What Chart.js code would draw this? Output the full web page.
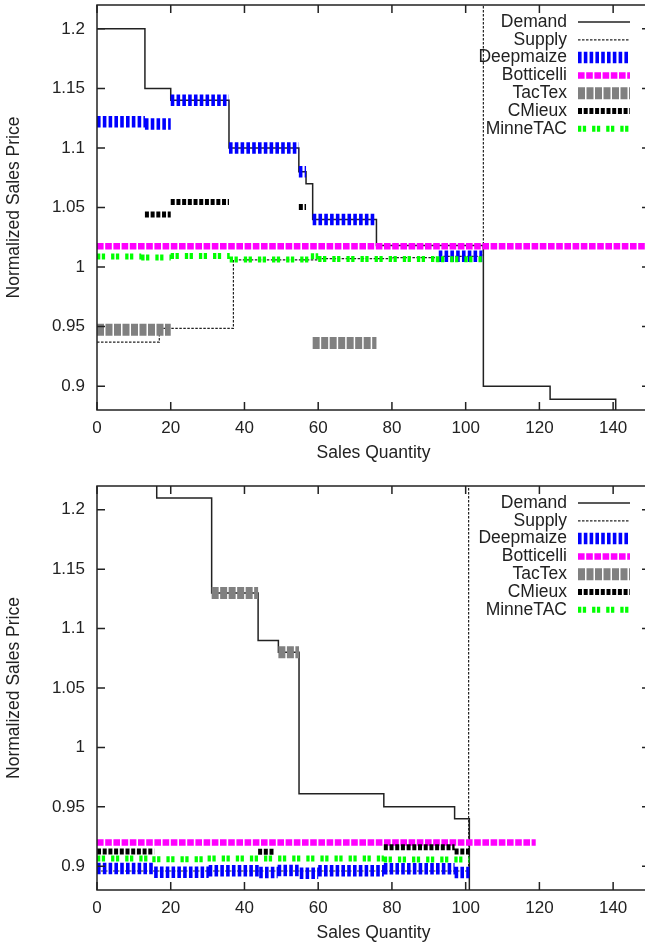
<!DOCTYPE html>
<html><head><meta charset="utf-8">
<script src="https://cdn.jsdelivr.net/npm/chart.js@4.4.1/dist/chart.umd.min.js"></script>
<style>
html,body{margin:0;padding:0;background:#fff;overflow:hidden;width:645px;height:949px;}
.wrap{position:absolute;left:0;width:660px;height:470px;}
</style></head><body>
<div class="wrap" style="top:0px"><canvas id="c1" width="660" height="470"></canvas></div>
<div class="wrap" style="top:480px"><canvas id="c2" width="660" height="470"></canvas></div>
<script>
// ---------- DATA ----------
const legendLabels = ["Demand", "Supply", "Deepmaize", "Botticelli", "TacTex", "CMieux", "MinneTAC"];
const xTitle = "Sales Quantity";
const yTitle = "Normalized Sales Price";

// Top panel: step curves (x where level starts, level)
const demandTopX = [0, 13, 20, 35.8, 54.75, 56.7, 58.5, 75.8, 104.8, 122.9, 140.7];
const demandTopY = [1.2, 1.15, 1.14, 1.1, 1.08, 1.07, 1.04, 1.018, 0.9, 0.889, 0.87];
const supplyTopX = [0, 16.9, 37, 60, 80, 93, 104.8];
const supplyTopY = [0.937, 0.9485, 1.006, 1.007, 1.008, 1.009, 1.25];
// Top panel: agent sales segments [xStart, xEnd, price]
const deepmaizeTop = [[0, 13, 1.122], [13, 20, 1.12], [20, 35.8, 1.14], [35.8, 54.75, 1.1], [54.75, 56.7, 1.08], [58.5, 75.8, 1.04], [92.7, 104.5, 1.009]];
const botticelliTop = [[0, 150, 1.0174]];
const tactexTop = [[0, 20, 0.9474], [58.5, 75.8, 0.9362]];
const cmieuxTop = [[13, 20, 1.0441], [20, 35.8, 1.0547], [54.75, 56.7, 1.0505]];
const minnetacTop = [[0, 12, 1.0089], [12, 20, 1.008], [20, 36, 1.0092], [36, 58, 1.0064], [58, 60, 1.009], [60, 92, 1.0068], [92, 104.8, 1.0066]];

// Bottom panel
const demandBotX = [0, 16.2, 31.1, 43.7, 49.2, 54.8, 77.8, 97, 101];
const demandBotY = [1.25, 1.21, 1.13, 1.09, 1.08, 0.961, 0.95, 0.94, 0.87];
const supplyBotX = [0, 100.8];
const supplyBotY = [0.896, 1.25];
const deepmaizeBot = [[0, 15.5, 0.898], [15.5, 30.3, 0.895], [30.3, 44, 0.8963], [44, 49, 0.8948], [49, 55, 0.8965], [55, 60, 0.8942], [60, 77.8, 0.8962], [77.8, 97, 0.8978], [97, 101, 0.8948]];
const botticelliBot = [[0, 119, 0.92]];
const tactexBot = [[31.1, 43.7, 1.13], [49.2, 54.8, 1.08]];
const cmieuxBot = [[0, 15.5, 0.9125], [43.7, 48.2, 0.9122], [77.8, 97, 0.916], [97, 101, 0.9125]];
const minnetacBot = [[0, 15, 0.9065], [15, 30, 0.9058], [30, 77.8, 0.9065], [77.8, 101, 0.9056]];

const xTicks = {min: 0, max: 150, step: 20};
const yTicks = {min: 0.88, max: 1.22, step: 0.05};

// ---------- helpers ----------
function stepPoints(xs, ys) { return xs.map((x, i) => ({x: x, y: ys[i]})); }
function segPoints(segs) {
  const pts = [];
  segs.forEach((s, i) => {
    if (i > 0) pts.push({x: s[0], y: null});
    pts.push({x: s[0], y: s[2]}, {x: s[1], y: s[2]});
  });
  return pts;
}

const FONT = '"Liberation Sans", Arial, Helvetica, sans-serif';
const TEXT = '#222';

const legendPlugin = {
  id: 'gpLegend',
  afterDraw(chart) {
    const ctx = chart.ctx, a = chart.chartArea;
    ctx.save();
    ctx.font = '17.5px ' + FONT;
    ctx.textAlign = 'right';
    ctx.textBaseline = 'middle';
    chart.data.datasets.forEach((ds, i) => {
      const y = a.top + 17 + i * 17.8;
      ctx.fillStyle = TEXT;
      ctx.fillText(ds.label, a.right - 83, y);
      ctx.beginPath();
      ctx.strokeStyle = ds.borderColor;
      ctx.lineWidth = ds.legendWidth || ds.borderWidth;
      ctx.setLineDash(ds.borderDash || []);
      ctx.moveTo(a.right - 72, y);
      ctx.lineTo(a.right - 20, y);
      ctx.stroke();
    });
    ctx.restore();
  }
};

const framePlugin = {
  id: 'gpFrame',
  afterDraw(chart) {
    const ctx = chart.ctx, a = chart.chartArea, xs = chart.scales.x, ys = chart.scales.y;
    ctx.save();
    ctx.strokeStyle = '#222';
    ctx.lineWidth = 1.5;
    ctx.setLineDash([]);
    ctx.strokeRect(a.left, a.top, a.right - a.left, a.bottom - a.top);
    ctx.beginPath();
    xs.ticks.forEach(t => {
      const px = xs.getPixelForValue(t.value);
      ctx.moveTo(px, a.bottom); ctx.lineTo(px, a.bottom - 8);
      ctx.moveTo(px, a.top); ctx.lineTo(px, a.top + 8);
    });
    ys.ticks.forEach(t => {
      const py = ys.getPixelForValue(t.value);
      ctx.moveTo(a.left, py); ctx.lineTo(a.left + 8, py);
      ctx.moveTo(a.right, py); ctx.lineTo(a.right - 8, py);
    });
    ctx.stroke();
    ctx.restore();
  }
};

function makeChart(id, padTop, d) {
  const datasets = [
    {label: legendLabels[0], data: stepPoints(d.demandX, d.demandY), stepped: 'before', borderColor: '#222', borderWidth: 1.5, order: 7},
    {label: legendLabels[1], data: stepPoints(d.supplyX, d.supplyY), stepped: 'before', borderColor: '#222', borderWidth: 1.2, borderDash: [2.5, 1.5], order: 6},
    {label: legendLabels[2], data: segPoints(d.deepmaize), borderColor: '#0000ff', borderWidth: 11.5, borderDash: [3.6, 2.2], order: 5},
    {label: legendLabels[3], data: segPoints(d.botticelli), borderColor: '#ff00ff', borderWidth: 6.5, borderDash: [6.6, 1.6], order: 4},
    {label: legendLabels[4], data: segPoints(d.tactex), borderColor: '#808080', borderWidth: 12, borderDash: [7, 1.5], order: 3},
    {label: legendLabels[5], data: segPoints(d.cmieux), borderColor: '#000000', borderWidth: 6, borderDash: [4, 1.7], order: 2},
    {label: legendLabels[6], data: segPoints(d.minnetac), borderColor: '#00ff00', borderWidth: 6, borderDash: [3.3, 1.5, 3.3, 6], order: 1}
  ];
  datasets.forEach(ds => { ds.pointRadius = 0; ds.fill = false; ds.spanGaps = false; ds.tension = 0; ds.borderCapStyle = 'butt'; });
  return new Chart(document.getElementById(id), {
    type: 'line',
    data: {datasets: datasets},
    options: {
      responsive: false,
      animation: false,
      devicePixelRatio: 1,
      layout: {padding: {left: 0, right: 10, top: padTop, bottom: 0}},
      plugins: {legend: {display: false}, tooltip: {enabled: false}},
      scales: {
        x: {
          type: 'linear', position: 'bottom', min: xTicks.min, max: xTicks.max,
          grid: {display: false, drawTicks: false}, border: {display: false},
          ticks: {stepSize: xTicks.step, includeBounds: false, color: TEXT, font: {family: FONT, size: 17}, padding: 8, maxRotation: 0, autoSkip: false},
          title: {display: true, text: xTitle, color: TEXT, font: {family: FONT, size: 17.5}, padding: {top: 0, bottom: 6.5}},
          afterFit(s) { s.height = 60; s.paddingLeft = 0; s.paddingRight = 0; }
        },
        y: {
          type: 'linear', position: 'left', min: yTicks.min, max: yTicks.max,
          grid: {display: false, drawTicks: false}, border: {display: false},
          ticks: {stepSize: yTicks.step, includeBounds: false, color: TEXT, font: {family: FONT, size: 17}, padding: 12, autoSkip: false,
            callback: v => String(Math.round(v * 100) / 100)},
          title: {display: true, text: yTitle, color: TEXT, font: {family: FONT, size: 17.5}, padding: {top: 4, bottom: 0}},
          afterFit(s) { s.width = 97; s.paddingTop = 0; s.paddingBottom = 0; }
        }
      }
    },
    plugins: [framePlugin, legendPlugin]
  });
}

makeChart('c1', 5, {
  demandX: demandTopX, demandY: demandTopY, supplyX: supplyTopX, supplyY: supplyTopY,
  deepmaize: deepmaizeTop, botticelli: botticelliTop, tactex: tactexTop, cmieux: cmieuxTop, minnetac: minnetacTop
});
makeChart('c2', 6, {
  demandX: demandBotX, demandY: demandBotY, supplyX: supplyBotX, supplyY: supplyBotY,
  deepmaize: deepmaizeBot, botticelli: botticelliBot, tactex: tactexBot, cmieux: cmieuxBot, minnetac: minnetacBot
});
</script>
</body></html>
